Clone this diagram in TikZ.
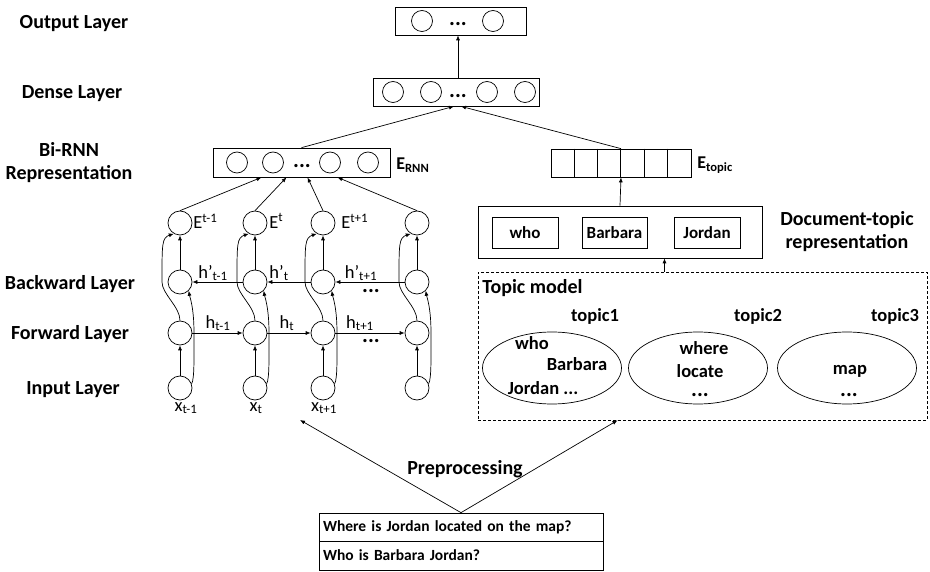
\documentclass[tikz,border=0pt]{standalone}
\usepackage{fontspec}
\setmainfont{Carlito}
\usetikzlibrary{arrows.meta,positioning,shapes.geometric}

\tikzset{
  cell/.style={circle,draw,minimum size=24pt,inner sep=0pt},
  unit/.style={circle,draw,minimum size=21pt,inner sep=0pt},
  layerbox/.style={draw,minimum height=28pt,inner sep=0pt},
  wordbox/.style={draw,minimum width=66pt,minimum height=31pt,inner sep=0pt,font=\fontsize{17}{19}\selectfont\bfseries},
  topicset/.style={ellipse,draw,minimum width=139pt,minimum height=72pt,inner sep=0pt},
  qbox/.style={draw,text width=276pt,inner xsep=4pt,inner ysep=0pt,align=left,font=\fontsize{15.5}{18}\selectfont\bfseries},
  arr/.style={-{Latex[length=5pt,width=4pt]}},
  lbl/.style={font=\fontsize{20}{23}\selectfont\bfseries,align=center,inner sep=0pt},
  word/.style={font=\fontsize{18.5}{20}\selectfont\bfseries,inner sep=0pt},
  sym/.style={font=\fontsize{18.5}{20}\selectfont,inner sep=0pt},
  dots/.style={font=\fontsize{22}{24}\selectfont\bfseries,inner sep=0pt}
}

\begin{document}
\begin{tikzpicture}[x=1pt,y=1pt,yscale=-1,line width=0.7pt]
\useasboundingbox (0,0) rectangle (930,572);

% layer names
\node[lbl] (outname) at (74,24) {Output Layer};
\node[lbl] (densename) at (72,94) {Dense Layer};
\node[lbl] (rnnname) at (69,163) {Bi-RNN\\Representation};
\node[lbl] (bwname) at (70,284) {Backward Layer};
\node[lbl] (fwname) at (70,334) {Forward Layer};
\node[lbl] (inname) at (73,390) {Input Layer};

% output and dense layer
\node[layerbox,minimum width=131pt] (outbox) at (460.5,21) {};
\node[unit] (o1) at (422,21) {};
\node[unit] (o2) at (493,21) {};
\node[dots] (odots) at (458,24) {...};

\node[layerbox,minimum width=166pt] (densebox) at (456,92) {};
\foreach \x [count=\i] in {393,431,487,525}
  \node[unit] (d\i) at (\x,92) {};
\node[dots] (ddots) at (458,96) {...};

\draw[arr] ([xshift=2pt]densebox.north) -- ([xshift=2pt]densebox.north |- outbox.south);

% Bi-RNN representation
\node[layerbox,minimum width=177pt,minimum height=29pt] (rnnbox) at (301.5,162.5) {};
\foreach \x [count=\i] in {237,273,330,368}
  \node[unit] (r\i) at (\x,162.5) {};
\node[dots] (rdots) at (302,166) {...};
\node[anchor=west,inner sep=0pt,font=\fontsize{18}{20}\selectfont\bfseries] (ernn) at (396,165) {E\textsubscript{RNN}};

\node[layerbox,minimum width=140pt] (etopic) at (621,163) {};
\foreach \k in {1,...,5}
  \draw ([xshift=\k*23.33pt]etopic.north west) -- ([xshift=\k*23.33pt]etopic.south west);
\node[anchor=west,inner sep=0pt,font=\fontsize{18}{20}\selectfont\bfseries] (etopicname) at (697,165) {E\textsubscript{topic}};

\draw[arr] (rnnbox.north) -- ([xshift=-2pt]densebox.south);
\draw[arr] (etopic.north) -- ([xshift=5pt]densebox.south);

% the recurrent cells
\foreach \x [count=\i] in {180,255,323,417} {
  \node[cell] (e\i) at (\x,223) {};
  \node[cell] (b\i) at (\x,282) {};
  \node[cell] (f\i) at (\x,333) {};
  \node[cell] (in\i) at (\x,388) {};
  \draw[arr] (in\i) -- (f\i);
  \draw[arr] (b\i) -- (e\i);
  \draw[arr] (f\i.north) .. controls +(0,-14) and +(0,12) .. ([xshift=-18pt]b\i.center)
    .. controls +(0,-38) and +(-12,4) .. (e\i.240);
  \draw[arr] (in\i.20) .. controls +(3,-4) and +(0,20) .. ([xshift=14pt]f\i.center)
    .. controls +(0,-26) and +(1,6) .. (b\i.-45);
}
\draw[arr] (e1.north) -- ([xshift=-40pt]rnnbox.south);
\draw[arr] (e2.north) -- ([xshift=-15pt]rnnbox.south);
\draw[arr] (e3.north) -- ([xshift=6pt]rnnbox.south);
\draw[arr] (e4.north) -- ([xshift=36pt]rnnbox.south);

\draw[arr] (f1) -- (f2);
\draw[arr] (f2) -- (f3);
\draw[arr] (f3) -- (f4);
\draw[arr] (b4) -- (b3);
\draw[arr] (b3) -- (b2);
\draw[arr] (b2) -- (b1);

\node[sym,anchor=west] (le1) at (193,221) {E\textsuperscript{t-1}};
\node[sym,anchor=west] (le2) at (269,221) {E\textsuperscript{t}};
\node[sym,anchor=west] (le3) at (341,221) {E\textsuperscript{t+1}};
\node[sym] (lb1) at (213,273) {h'\textsubscript{t-1}};
\node[sym] (lb2) at (279,273) {h'\textsubscript{t}};
\node[sym] (lb3) at (361,273) {h'\textsubscript{t+1}};
\node[dots] (bdots) at (371,291) {...};
\node[sym] (lf1) at (218,323) {h\textsubscript{t-1}};
\node[sym] (lf2) at (287,323) {h\textsubscript{t}};
\node[sym] (lf3) at (360,323) {h\textsubscript{t+1}};
\node[dots] (fdots) at (371,341) {...};
\node[sym] (lx1) at (186,408) {x\textsubscript{t-1}};
\node[sym] (lx2) at (256,408) {x\textsubscript{t}};
\node[sym] (lx3) at (324,408) {x\textsubscript{t+1}};

% document-topic part
\node[draw,minimum width=284pt,minimum height=52pt,inner sep=0pt] (docbox) at (620,232) {};
\node[wordbox] (wwho) at (525,232.5) {who};
\node[wordbox,minimum width=65pt] (wbarbara) at (614.5,232.5) {Barbara};
\node[wordbox] (wjordan) at (707,232.5) {Jordan};
\node[lbl] (docname) at (847,232) {Document-topic\\representation};
\draw[arr] (docbox.north) -- (etopic.south);

\node[draw,dashed,dash pattern=on 3pt off 2pt,minimum width=449pt,minimum height=148pt,inner sep=0pt] (tmbox) at (702.5,346) {};
\draw[arr] ([xshift=-38pt]tmbox.north) -- ([xshift=-38pt]tmbox.north |- docbox.south);
\node[lbl,anchor=west] (tmname) at (482,288) {Topic model};
\node[word] (tname1) at (595,316) {topic1};
\node[word] (tname2) at (758,316) {topic2};
\node[word] (tname3) at (895,316) {topic3};

\node[topicset] (t1) at (552,368) {};
\node[topicset] (t2) at (698,368) {};
\node[topicset] (t3) at (847,368) {};
\node[word] (t1a) at (532,343) {who};
\node[word] (t1b) at (577,364) {Barbara};
\node[word] (t1c) at (543,388) {Jordan ...};
\node[word] (t2a) at (704,348) {where};
\node[word] (t2b) at (700,371) {locate};
\node[dots] (t2c) at (700,395) {...};
\node[word] (t3a) at (850,371) {map};
\node[dots] (t3c) at (849,395) {...};

% input sentences
\node[qbox,minimum height=28pt] (q1) at (461,527) {Where is Jordan located on the map?};
\node[qbox,minimum height=29pt] (q2) at (461,555.5) {Who is Barbara Jordan?};
\coordinate (rnnin) at (300,420);
\draw[arr] (q1.north) -- (rnnin);
\draw[arr] (q1.north) -- ([xshift=-85pt]tmbox.south);
\node[lbl] (prename) at (465,469) {Preprocessing};

\end{tikzpicture}
\end{document}
